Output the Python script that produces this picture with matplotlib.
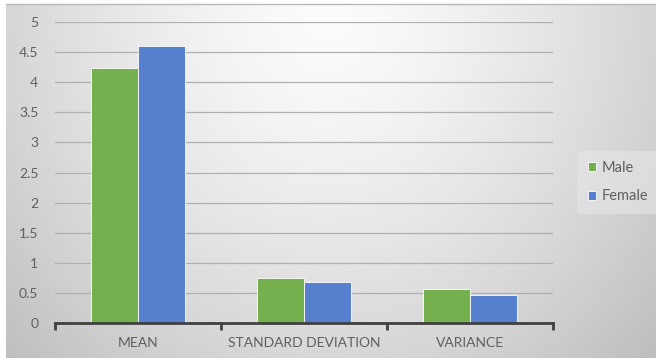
import numpy as np
import matplotlib
matplotlib.use("Agg")
import matplotlib.pyplot as plt
from matplotlib.lines import Line2D

categories = ["MEAN", "STANDARD DEVIATION", "VARIANCE"]
male = [4.24, 0.75, 0.56]
female = [4.60, 0.68, 0.47]
series_names = ["Male", "Female"]
y_ticks = [0, 0.5, 1, 1.5, 2, 2.5, 3, 3.5, 4, 4.5, 5]
y_labels = ["0", "0.5", "1", "1.5", "2", "2.5", "3", "3.5", "4", "4.5", "5"]

GREEN = "#74b04e"
BLUE = "#5680cd"
TEXT = "#606060"

plt.rcParams["font.family"] = ["Lato", "DejaVu Sans"]

W, H = 656, 360
fig = plt.figure(figsize=(W / 100, H / 100), dpi=100, facecolor="white")

# soft radial gradient behind the chart
bg = fig.add_axes([6 / W, 2 / H, 650 / W, 354 / H], zorder=-5)
yy, xx = np.mgrid[0:354, 0:650]
cx, cy = 320, 345
d = np.sqrt(((xx - cx) / 1.0) ** 2 + ((yy - cy) / 1.1) ** 2)
v = 252 - 56 * np.clip(d / 420, 0, 1.3) ** 1.4
img = np.dstack([v, v, v]) / 255.0
bg.imshow(img, origin="lower", aspect="auto", extent=[0, 1, 0, 1])
bg.axis("off")
fig.add_artist(Line2D([6 / W, 1], [1 - 4 / H, 1 - 4 / H], color="#b8b8b8", lw=1.0))

ax = fig.add_axes([55 / W, 37 / H, (553 - 55) / W, (323 - 22) / H])
ax.set_facecolor("none")

x = np.arange(len(categories))
bw = 0.283
ax.bar(x - bw / 2, male, bw, color=GREEN, edgecolor="white", linewidth=0.6, label=series_names[0], zorder=3)
ax.bar(x + bw / 2, female, bw, color=BLUE, edgecolor="white", linewidth=0.6, label=series_names[1], zorder=3)

ax.set_xlim(-0.5, 2.5)
ax.set_ylim(0, 5)
ax.set_yticks(y_ticks)
ax.set_yticklabels(y_labels)
ax.tick_params(axis="y", length=0, pad=12, labelsize=10, labelcolor=TEXT)
ax.yaxis.grid(True, color="#b0b0b0", linewidth=0.9, zorder=0)

ax.set_xticks([-0.5, 0.5, 1.5, 2.5])
ax.set_xticklabels([])
ax.tick_params(axis="x", which="major", length=5, width=2, color="#404040", direction="out")
ax.set_xticks(x, minor=True)
ax.set_xticklabels(categories, minor=True)
ax.tick_params(axis="x", which="minor", length=0, pad=10, labelsize=10, labelcolor=TEXT)

for s in ["top", "right", "left"]:
    ax.spines[s].set_visible(False)
ax.spines["bottom"].set_color("#404040")
ax.spines["bottom"].set_linewidth(2)
ax.spines["bottom"].set_zorder(4)

leg = fig.legend(loc="center left", bbox_to_anchor=(570 / W, 1 - 182 / H), frameon=True,
                 fontsize=10.5, handlelength=0.55, handleheight=0.55, handletextpad=0.4,
                 labelspacing=1.0, borderpad=0.7, labelcolor=TEXT)
leg.get_frame().set_facecolor("#e6e6e6")
leg.get_frame().set_edgecolor("none")
leg.get_frame().set_alpha(0.6)
leg.get_frame().set_boxstyle("square", pad=0)

fig.savefig("out.png", dpi=100, facecolor="white")
